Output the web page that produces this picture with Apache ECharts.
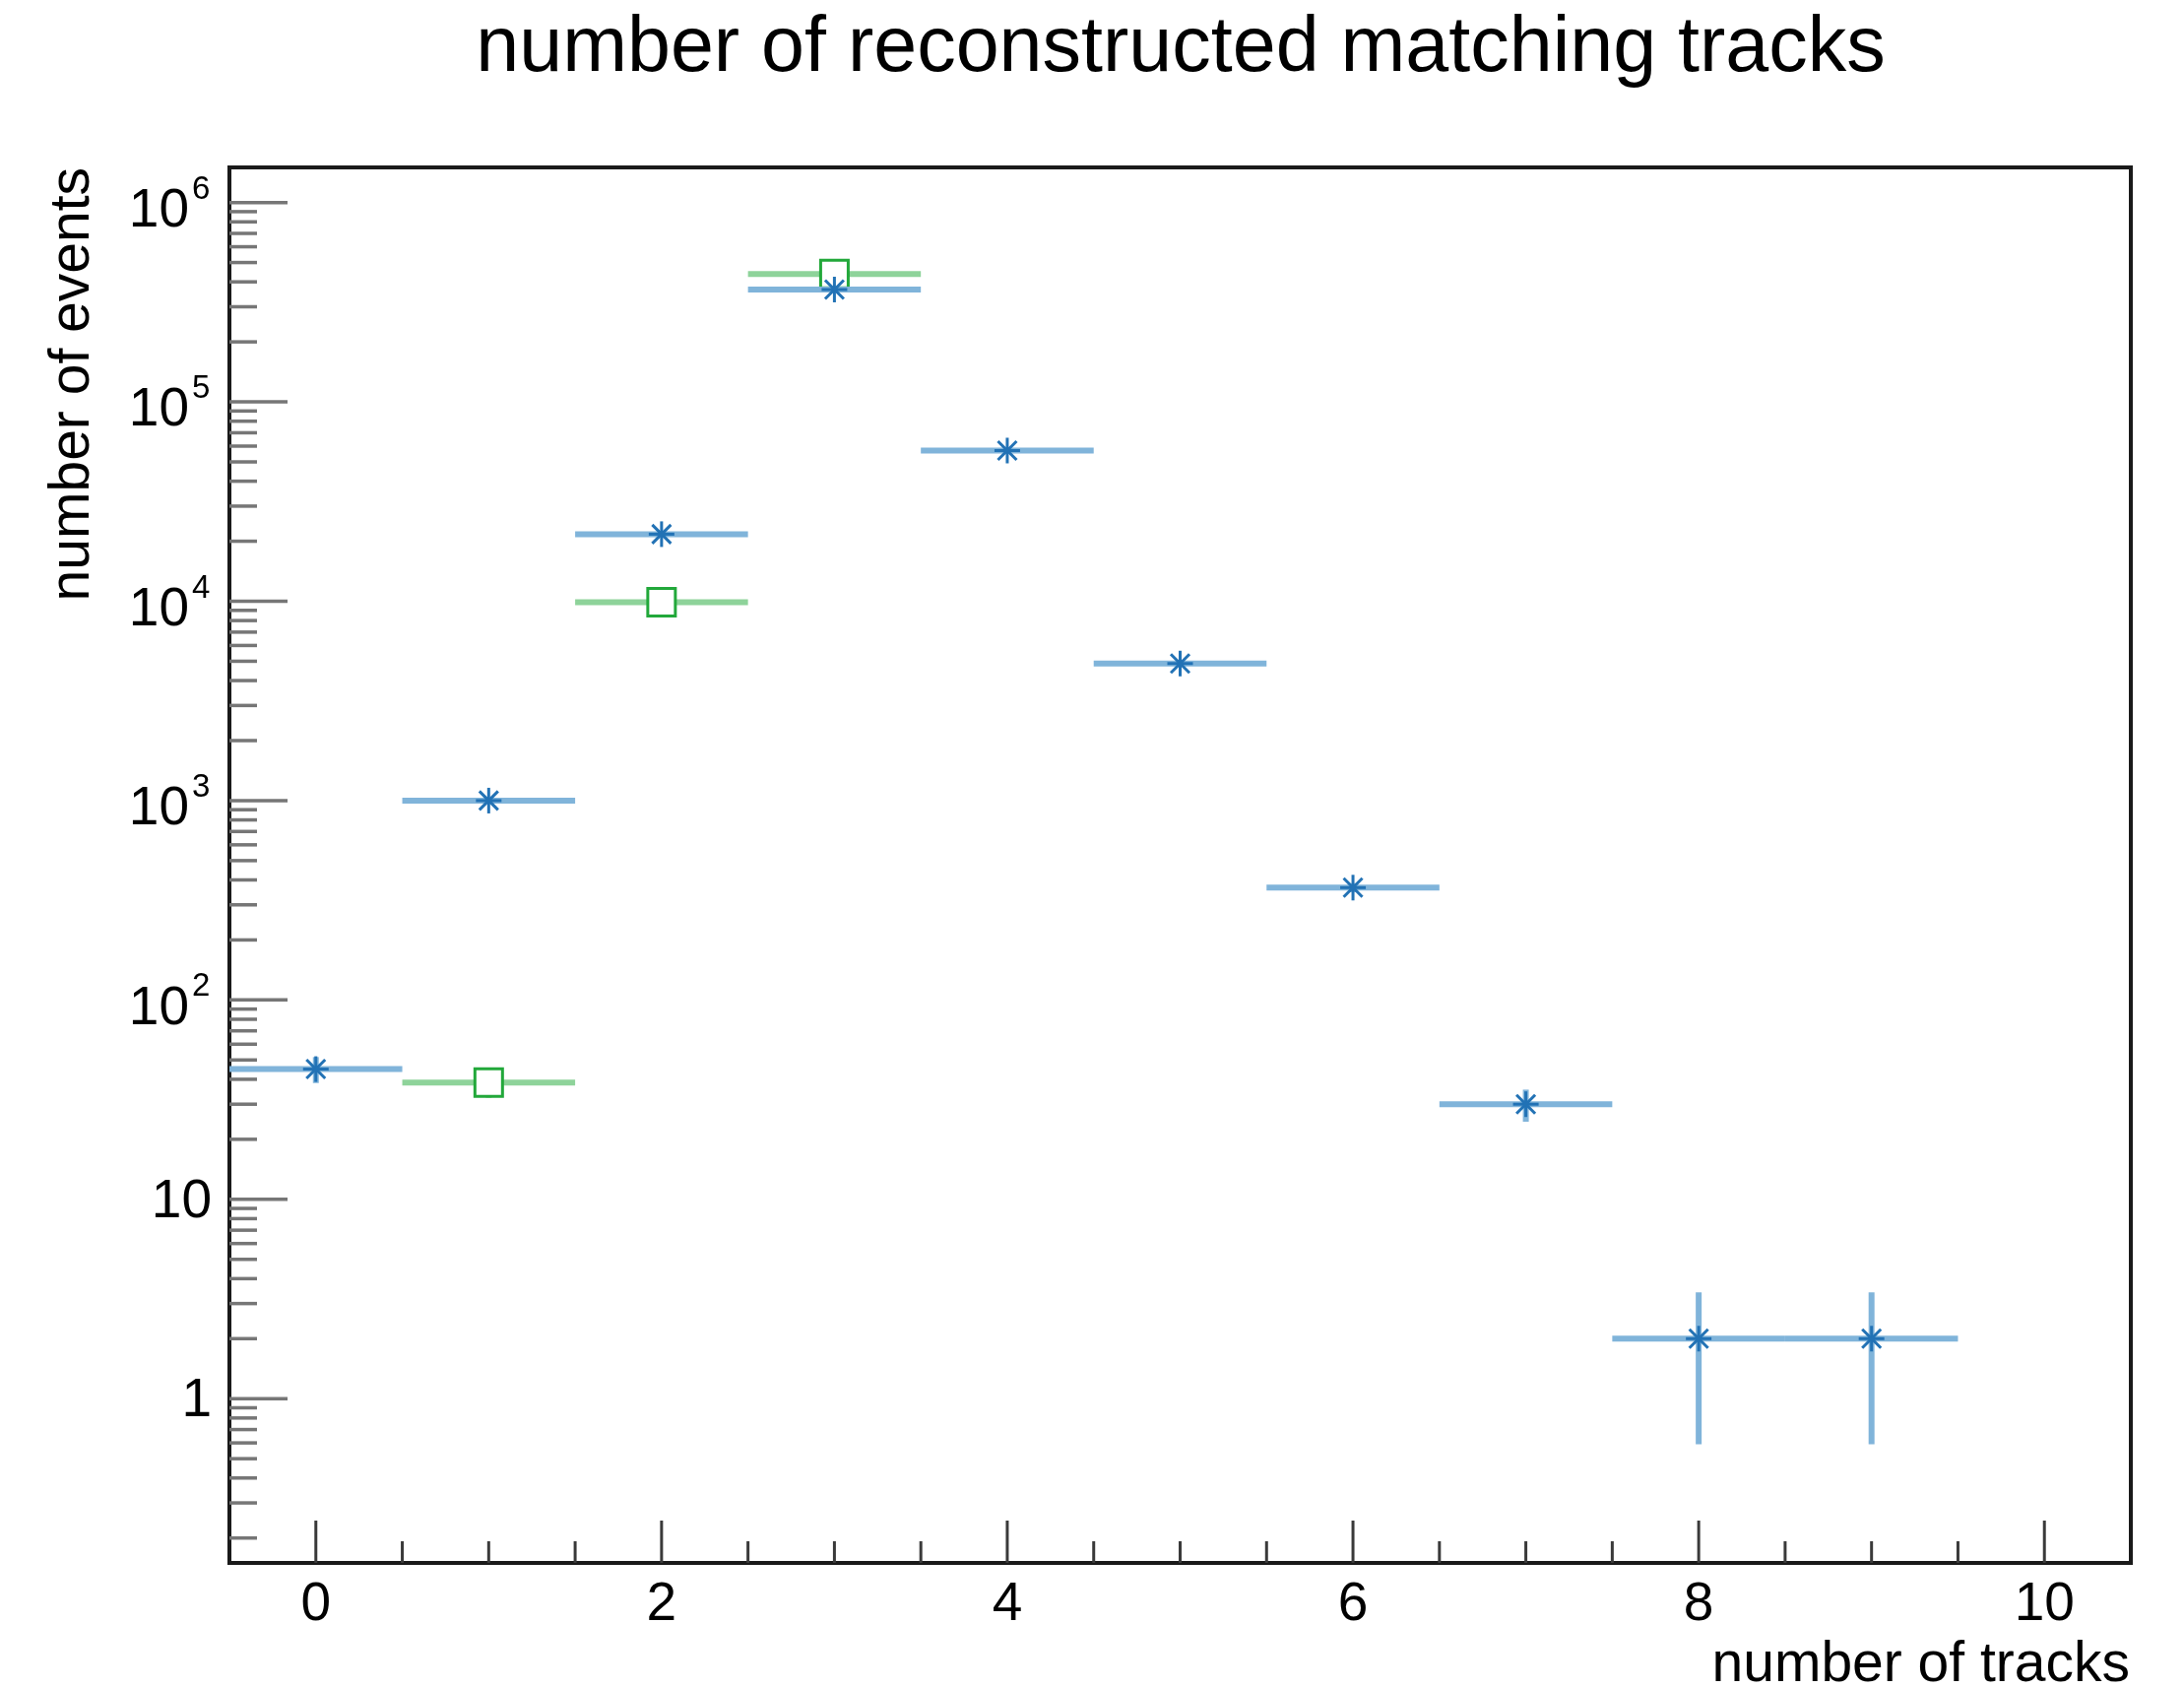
<!DOCTYPE html>
<html><head><meta charset="utf-8">
<script src="https://cdn.jsdelivr.net/npm/echarts@6/dist/echarts.min.js"></script>
<style>html,body{margin:0;padding:0;background:#fff}#c{width:2218px;height:1714px}</style>
</head><body><div id="c"></div>
<script>
// ---- data ----
const trackBins = [0, 1, 2, 3, 4, 5, 6, 7, 8, 9];
const allEvents = [45, 1000, 21700, 366000, 57000, 4870, 366, 30, 2, 2];
const allEventsErr = [6.7, 31.6, 147, 605, 239, 70, 19.1, 5.5, 1.41, 1.41];
const matchBins = [1, 2, 3];
const matchEvents = [38.5, 9900, 438000];
const matchEventsErr = [6.2, 99.5, 662];
const binHalfWidth = 0.5;
// ---- axis ticks / labels ----
const xMajorTicks = [0, 2, 4, 6, 8, 10];
const xTickLabels = ['0', '2', '4', '6', '8', '10'];
const yMajorTicks = [1, 10, 100, 1000, 10000, 100000, 1000000];
const yTickBase = ['1', '10', '10', '10', '10', '10', '10'];
const yTickExp = ['', '', '2', '3', '4', '5', '6'];
const xMin = -0.5, xMax = 10.5, yMin = 0.15, yMax = 1.5e6;

const FONT = "'Liberation Sans', Arial, Helvetica, sans-serif";

const xMinorTicks = [];
for (let v = xMin; v <= xMax + 1e-9; v += 0.5) {
  if (xMajorTicks.indexOf(v) < 0 && v > xMin && v < xMax) xMinorTicks.push(v);
}
const yMinorTicks = [];
for (let d = -1; d <= 6; d++) {
  for (let m = 2; m <= 9; m++) {
    const v = m * Math.pow(10, d);
    if (v > yMin && v < yMax) yMinorTicks.push(v);
  }
}

const blueLine = '#80b4da', blueMark = '#2272b5';
const greenLine = '#8ed39a', greenMark = '#22a83a';

function dataRender(kind) {
  return function (params, api) {
    const x = api.value(0), y = api.value(1), e = api.value(2);
    const pL = api.coord([x - binHalfWidth, y]);
    const pR = api.coord([x + binHalfWidth, y]);
    const pT = api.coord([x, y + e]);
    const pB = api.coord([x, y - e]);
    const c = api.coord([x, y]);
    const lc = kind === 'star' ? blueLine : greenLine;
    const children = [
      { type: 'line', shape: { x1: pL[0], y1: pL[1], x2: pR[0], y2: pR[1] }, style: { stroke: lc, lineWidth: 6 } },
      { type: 'line', shape: { x1: pT[0], y1: pT[1], x2: pB[0], y2: pB[1] }, style: { stroke: lc, lineWidth: 6 } }
    ];
    if (kind === 'star') {
      const r = 13, d = 9.5;
      const segs = [[0, -r, 0, r], [-r, 0, r, 0], [-d, -d, d, d], [-d, d, d, -d]];
      segs.forEach(s => children.push({
        type: 'line', shape: { x1: c[0] + s[0], y1: c[1] + s[1], x2: c[0] + s[2], y2: c[1] + s[3] },
        style: { stroke: blueMark, lineWidth: 3 }
      }));
    } else {
      const h = 14;
      children.push({ type: 'rect', shape: { x: c[0] - h, y: c[1] - h, width: 2 * h, height: 2 * h },
        style: { fill: '#fff', stroke: greenMark, lineWidth: 3 } });
    }
    return { type: 'group', children };
  };
}

function xTickRender(params, api) {
  const v = api.value(0), major = api.value(2);
  const cs = params.coordSys;
  const px = api.coord([v, 1])[0];
  const yb = cs.y + cs.height;
  const len = major ? 43 : 22;
  const children = [{ type: 'line', shape: { x1: px, y1: yb, x2: px, y2: yb - len }, style: { stroke: '#3a3a3a', lineWidth: 3 } }];
  if (major) {
    const idx = api.value(3);
    children.push({ type: 'text', style: { x: px, y: 1630, text: xTickLabels[idx], fill: '#000',
      font: '55px ' + FONT, align: 'center', verticalAlign: 'middle' } });
  }
  return { type: 'group', children };
}

function yTickRender(params, api) {
  const v = api.value(1), major = api.value(2);
  const cs = params.coordSys;
  const py = api.coord([0, v])[1];
  const x0 = cs.x;
  const len = major ? 59 : 28;
  const children = [{ type: 'line', shape: { x1: x0, y1: py, x2: x0 + len, y2: py }, style: { stroke: '#767676', lineWidth: 3.5 } }];
  if (major) {
    const idx = api.value(3);
    if (yTickExp[idx] === '') {
      children.push({ type: 'text', style: { x: 215, y: py + 3, text: yTickBase[idx], fill: '#000',
        font: '55px ' + FONT, align: 'right', verticalAlign: 'middle' } });
    } else {
      children.push({ type: 'text', style: { x: 192, y: py + 9, text: yTickBase[idx], fill: '#000',
        font: '55px ' + FONT, align: 'right', verticalAlign: 'middle' } });
      children.push({ type: 'text', style: { x: 195, y: py - 13, text: yTickExp[idx], fill: '#000',
        font: '33px ' + FONT, align: 'left', verticalAlign: 'middle' } });
    }
  }
  return { type: 'group', children };
}

const xTickData = xMajorTicks.map((v, i) => [v, 1, 1, i]).concat(xMinorTicks.map(v => [v, 1, 0, -1]));
const yTickData = yMajorTicks.map((v, i) => [0, v, 1, i]).concat(yMinorTicks.map(v => [0, v, 0, -1]));

const chart = echarts.init(document.getElementById('c'), null, { renderer: 'canvas' });
chart.setOption({
  backgroundColor: '#fff',
  animation: false,
  grid: { left: 233, right: 54, top: 170, bottom: 127, show: true, borderColor: '#1a1a1a', borderWidth: 4, backgroundColor: 'transparent' },
  xAxis: { type: 'value', min: xMin, max: xMax, show: false },
  yAxis: { type: 'log', logBase: 10, min: yMin, max: yMax, show: false },
  graphic: [
    { type: 'text', x: 1199, y: 50, style: { text: 'number of reconstructed matching tracks', fill: '#000',
      font: '79px ' + FONT, align: 'center', verticalAlign: 'middle' } },
    { type: 'text', x: 2163, y: 1691, style: { text: 'number of tracks', fill: '#000',
      font: '57px ' + FONT, align: 'right', verticalAlign: 'middle' } },
    { type: 'text', x: 74, y: 170, rotation: Math.PI / 2, style: { text: 'number of events', fill: '#000',
      font: '57px ' + FONT, align: 'right', verticalAlign: 'middle' } }
  ],
  series: [
    { type: 'custom', name: 'x ticks', renderItem: xTickRender, data: xTickData, clip: false, silent: true, z: 3 },
    { type: 'custom', name: 'y ticks', renderItem: yTickRender, data: yTickData, clip: false, silent: true, z: 3 },
    { type: 'custom', name: 'matching', renderItem: dataRender('square'),
      data: matchBins.map((x, i) => [x, matchEvents[i], matchEventsErr[i]]), clip: false, z: 4 },
    { type: 'custom', name: 'reconstructed', renderItem: dataRender('star'),
      data: trackBins.map((x, i) => [x, allEvents[i], allEventsErr[i]]), clip: false, z: 5 }
  ]
});
</script></body></html>
